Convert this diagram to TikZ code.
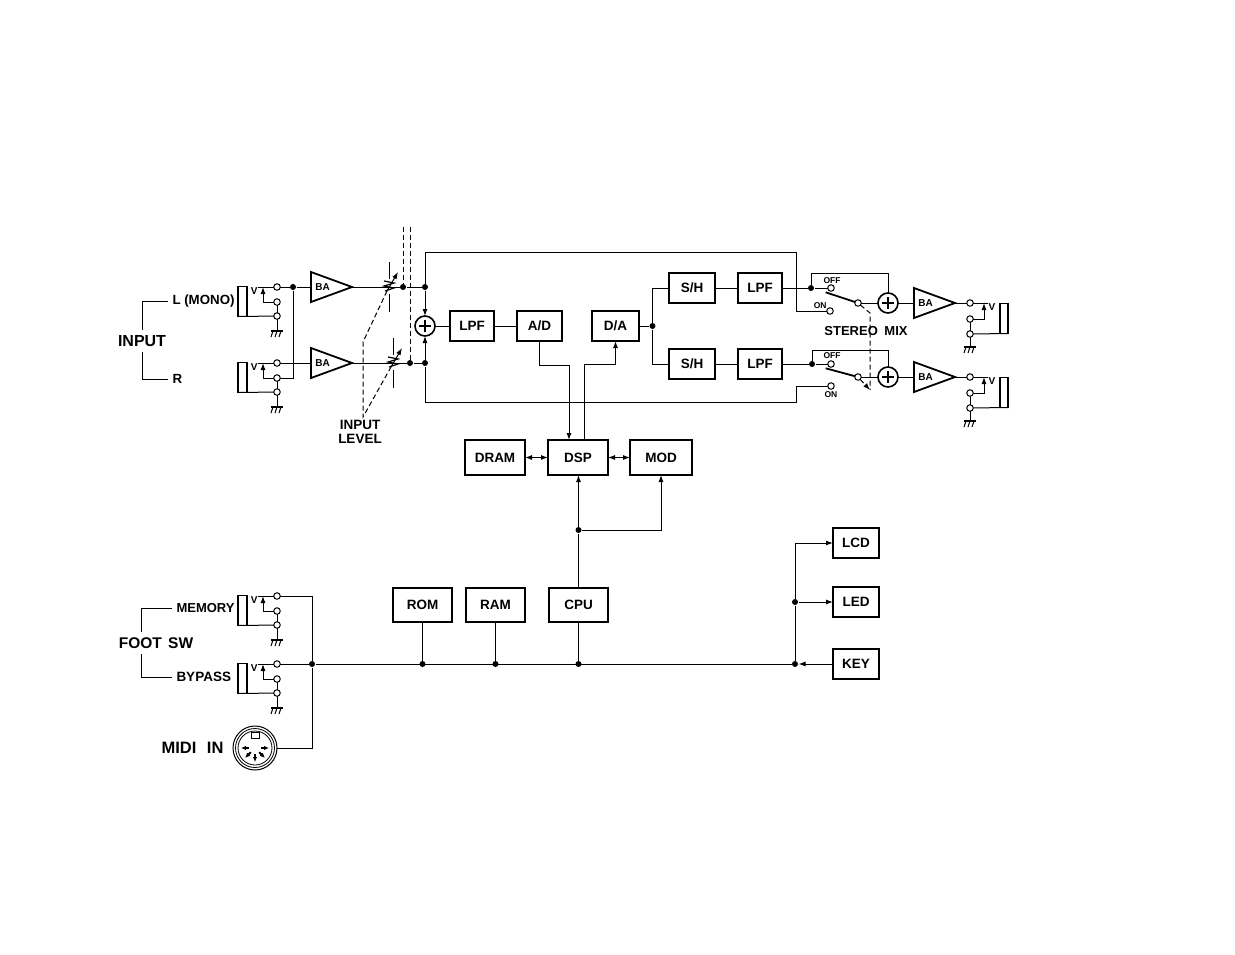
\documentclass[tikz,border=0pt]{standalone}
\usepackage{fontspec}
\setmainfont{Liberation Sans}
\usetikzlibrary{shapes.geometric, arrows.meta, positioning, calc}

\begin{document}
\begin{tikzpicture}[
    x=1pt, y=-1pt,
    >={Latex[length=7pt,width=5pt]},
    line width=1pt,
    font=\fontsize{13.5}{14}\selectfont\bfseries,
    % Styles
    block/.style={draw, rectangle, line width=1.8pt, outer sep=0pt, inner sep=0pt, minimum width=45pt, minimum height=30pt, align=center},
    bigblock/.style={block, minimum width=59pt, minimum height=34pt},
    ba/.style={draw, isosceles triangle, isosceles triangle stretches, line width=1.8pt, outer sep=0pt, inner sep=0pt, minimum width=30pt, minimum height=41pt, font=\fontsize{10}{10}\selectfont\bfseries},
    mixer/.style={draw, circle, line width=1.6pt, outer sep=0pt, inner sep=0pt, minimum size=20pt, path picture={\draw[line width=1.6pt] (-6,0) -- (6,0) (0,-6) -- (0,6);}},
    dot/.style={circle, fill, inner sep=0pt, minimum size=6pt},
    contact/.style={draw, circle, line width=1pt, outer sep=0pt, inner sep=0pt, minimum size=6.5pt},
    jackbox/.style={draw, rectangle, line width=1.6pt, outer sep=0pt, inner sep=0pt, minimum width=8.5pt, minimum height=30pt},
    tipmark/.style={inner sep=0pt, font=\fontsize{10}{10}\selectfont\bfseries},
    tag/.style={inner xsep=4pt, inner ysep=5pt, align=center},
    swtag/.style={inner sep=0pt, font=\fontsize{8.5}{9}\selectfont\bfseries},
    gang/.style={dashed, dash pattern=on 5pt off 3pt},
    gnd/.pic={
        \draw[line width=1.2pt] (-6,0) -- (6,0);
        \foreach \i in {-4,0,4} \draw (\i,0) -- (\i-2,6);
    },
    pot/.pic={
        \draw (0,-25) -- (0,-8) (0,7) -- (0,25);
        \draw[line width=1.2pt] (-5,-6) -- (5,-4) -- (-5,-1) -- (5,1) -- (-4,4);
        \draw[->] (-2,4) -- (9,-15);
    }
]
\useasboundingbox (0,0) rectangle (1235,954);

% 1. Input jacks and foot switch jacks
\foreach \jk/\yy in {ja/287, jb/363, jc/596, jd/664} {
    \node[contact] (\jk t) at (277,\yy) {};
    \node[contact] (\jk m) at (277,\yy+15) {};
    \node[contact] (\jk l) at (277,\yy+29) {};
    \node[jackbox] (\jk s) at (242.5,\yy+14.5) {};
    \node[tipmark, anchor=north east] (\jk v) at (258,\yy) {V};
    \coordinate (\jk p) at (263,\yy);
    \draw (\jk t) -- (\jk v.north east);
    \draw[->] (\jk m) -| (\jk p);
    \draw (\jk m) -- (\jk l);
    \draw (\jk s.south west) -- (\jk l);
    \draw (\jk l) -- ++(0,15) pic {gnd};
}

\node[tag, font=\fontsize{16}{16}\selectfont\bfseries] (input) at (142,341) {INPUT};
\node[tag, font=\fontsize{13.3}{14}\selectfont\bfseries, anchor=west] (lmono) at (168,301) {L (MONO)};
\node[tag, font=\fontsize{13.3}{14}\selectfont\bfseries, anchor=west] (rin) at (168,379) {R};
\draw (lmono.west) -| (input.north);
\draw (rin.west) -| (input.south);

% 2. Buffer amps and level controls
\node[ba, anchor=lower side] (baa) at (311,287) {BA};
\node[ba, anchor=lower side] (bab) at (311,363) {BA};
\node[dot] (dotja) at (293,287) {};
\node[dot] (dotpa) at (403,287) {};
\node[dot] (dotpb) at (410,363) {};
\node[dot] (dotla) at (425,287) {};
\node[dot] (dotlb) at (425,363) {};

\draw (jat) -- (dotja) -- (baa.lower side);
\draw (jbt) -- (bab.lower side);
\draw (dotja) |- (jbm);
\draw (baa.apex) -- (dotpa) -- (dotla);
\draw (bab.apex) -- (dotpb) -- (dotlb);

\path (389,287) pic {pot};
\path (393,363) pic {pot};

\coordinate (gangta) at (403,227);
\coordinate (gangtb) at (410,227);
\coordinate (gangbend) at (363,342);
\coordinate (gangend) at (363,417);
\coordinate (potwa) at (387,291);
\coordinate (potwb) at (391,367);
\draw[gang] (gangta) -- (dotpa);
\draw[gang] (gangtb) -- (dotpb);
\draw[gang] (potwa) -- (gangbend) -- (gangend) -- (potwb);
\node[tag, inner sep=0pt, font=\fontsize{13.5}{13.5}\selectfont\bfseries] (level) at (360,432) {INPUT\\LEVEL};

% 3. Converter chain
\node[mixer] (suma) at (425,326) {};
\node[block, minimum width=44pt, right=15pt of suma] (lpfa) {LPF};
\node[block, right=23pt of lpfa] (ad) {A/D};
\node[block, minimum width=47pt, right=30pt of ad] (da) {D/A};
\node[dot, right=10pt of da] (dotda) {};
\node[block, minimum width=46pt] (sha) at (692,288) {S/H};
\node[block, minimum width=46pt] (shb) at (692,364) {S/H};
\node[block, minimum width=44pt, right=23pt of sha] (lpfb) {LPF};
\node[block, minimum width=44pt, right=23pt of shb] (lpfc) {LPF};

\draw[->] (dotla) -- (suma);
\draw[->] (dotlb) -- (suma);
\draw (suma) -- (lpfa);
\draw (lpfa) -- (ad);
\draw (da) -- (dotda);
\draw (dotda) |- (sha);
\draw (dotda) |- (shb);
\draw (sha) -- (lpfb);
\draw (shb) -- (lpfc);

% 4. Stereo mix switches
\node[dot] (dotoa) at (811,288) {};
\node[dot] (dotob) at (812,364) {};
\node[contact] (coffa) at (831,288) {};
\node[contact] (cona) at (830,311) {};
\node[contact] (cmida) at (858,303) {};
\node[contact] (coffb) at (831,364) {};
\node[contact] (conb) at (831,386) {};
\node[contact] (cmidb) at (858,377) {};
\node[mixer] (sumb) at (888,303) {};
\node[mixer] (sumc) at (888,377) {};
\coordinate (cornera) at (796,252);
\coordinate (cornerb) at (796,402);
\coordinate (mixbend) at (870,313);
\coordinate (mixend) at (870,390);

\node[swtag] (offa) at (832,281) {OFF};
\node[swtag, anchor=east] (ona) at (827,306) {ON};
\node[swtag] (offb) at (832,356) {OFF};
\node[swtag] (onb) at (831,395) {ON};
\node[font=\fontsize{13}{14}\selectfont\bfseries, inner sep=0pt] (stereo) at (866,331) {STEREO\hspace{3pt} MIX};

\draw (lpfb) -- (dotoa) -- (coffa);
\draw (lpfc) -- (dotob) -- (coffb);
\draw (dotla) |- (cornera) |- (cona);
\draw (dotlb) |- (cornerb) |- (conb);
\draw (dotoa) -- ++(0,-15) -| (sumb);
\draw (dotob) -- ++(0,-14) -| (sumc);
\draw[line width=1.8pt] ([shift={(-3,2)}]coffa.south west) -- (cmida);
\draw[line width=1.8pt] ([shift={(-3,2)}]coffb.south west) -- (cmidb);
\draw (cmida) -- (sumb);
\draw (cmidb) -- (sumc);
\draw[gang] (cmida) -- (mixbend) -- (mixend);
\draw[gang, ->] (cmidb) -- (mixend);

% 5. Output amps and jacks
\node[ba, anchor=lower side] (bac) at (914,303) {BA};
\node[ba, anchor=lower side] (bad) at (914,377) {BA};
\draw (sumb) -- (bac.lower side);
\draw (sumc) -- (bad.lower side);

\foreach \jk/\yy in {ka/303, kb/377} {
    \node[contact] (\jk t) at (970,\yy) {};
    \node[contact] (\jk m) at (970,\yy+16) {};
    \node[contact] (\jk l) at (970,\yy+31) {};
    \node[jackbox] (\jk s) at (1004,\yy+15.5) {};
    \node[tipmark, anchor=north west] (\jk v) at (988,\yy) {V};
    \coordinate (\jk p) at (984,\yy);
    \draw (\jk t) -- (\jk v.north west);
    \draw[->] (\jk m) -| (\jk p);
    \draw (\jk m) -- (\jk l);
    \draw (\jk s.south east) -- (\jk l);
    \draw (\jk l) -- ++(0,13) pic {gnd};
}
\draw (bac.apex) -- (kat);
\draw (bad.apex) -- (kbt);

% 6. DSP section
\node[bigblock, minimum width=60pt, minimum height=35pt] (dram) at (495,457.5) {DRAM};
\node[bigblock, minimum width=60pt, minimum height=35pt, right=23pt of dram] (dsp) {DSP};
\node[bigblock, minimum width=62pt, minimum height=35pt, right=22pt of dsp] (mod) {MOD};

\draw[->] (ad.south) -- ++(0,24) -| ([xshift=-9pt]dsp.north);
\draw[->] ([xshift=6pt]dsp.north) -- ++(0,-76) -| (da.south);
\draw[<->] (dram) -- (dsp);
\draw[<->] (dsp) -- (mod);

% 7. Control bus
\node[bigblock] (rom) at (422.5,605) {ROM};
\node[bigblock, right=14pt of rom] (ram) {RAM};
\node[bigblock, right=24pt of ram] (cpu) {CPU};
\node[block, minimum width=46pt] (lcd) at (856,543) {LCD};
\node[block, minimum width=46pt, below=29pt of lcd] (led) {LED};
\node[block, minimum width=46pt, below=32pt of led] (key) {KEY};

\node[dot] (dotbus) at (312,664) {};
\node[dot] (dotrom) at (rom |- dotbus) {};
\node[dot] (dotram) at (ram |- dotbus) {};
\node[dot] (dotcpu) at (cpu |- dotbus) {};
\node[dot] (dotkey) at (795,664) {};
\node[dot] (dotled) at (dotkey |- led) {};
\node[dot, above=54.5pt of cpu] (dotmod) {};

\draw (jdt) -- (dotbus) -- (dotkey);
\draw (jct) -| (dotbus);
\draw (rom) -- (dotrom);
\draw (ram) -- (dotram);
\draw (cpu) -- (dotcpu);
\draw (cpu) -- (dotmod);
\draw[->] (dotmod) -- (dotmod |- dsp.south);
\draw[->] (dotmod) -| (mod.south);
\draw[->] (key) -- (dotkey);
\draw (dotkey) -- (dotled);
\draw[->] (dotled) -- (led);
\draw[->] (dotled) |- (lcd);

% 8. Foot switch and MIDI
\node[tag, font=\fontsize{15.5}{16}\selectfont\bfseries] (footsw) at (156,643) {FOOT\hspace{2pt} SW};
\node[tag, font=\fontsize{13}{14}\selectfont\bfseries, anchor=west] (memory) at (172,608) {MEMORY};
\node[tag, font=\fontsize{13.5}{14}\selectfont\bfseries, anchor=west] (bypass) at (172,677) {BYPASS};
\draw (memory.west) -| ([xshift=-15pt]footsw.north);
\draw (bypass.west) -| ([xshift=-15pt]footsw.south);

\node[draw, circle, line width=1pt, outer sep=0pt, inner sep=0pt, minimum size=44pt] (midi) at (255,748) {};
\node[draw, circle, line width=0.8pt, inner sep=0pt, minimum size=39pt] (midib) at (midi) {};
\node[draw, circle, line width=0.8pt, inner sep=0pt, minimum size=34pt] (midic) at (midi) {};
\node[draw, fill=white, rectangle, line width=0.8pt, inner sep=0pt, minimum width=8pt, minimum height=6pt] (midin) at (255,735) {};
\foreach \a in {0,45,90,135,180} \draw[-{Latex[length=5pt,width=4.5pt]}, line width=2pt] (midi.center) ++(\a:6) -- ++(\a:8);
\node[font=\fontsize{16.5}{17}\selectfont\bfseries, anchor=east, inner sep=0pt] (midilabel) at (224,748) {MIDI\hspace{6pt} IN};
\draw (midi.east) -| (dotbus);

\end{tikzpicture}
\end{document}
